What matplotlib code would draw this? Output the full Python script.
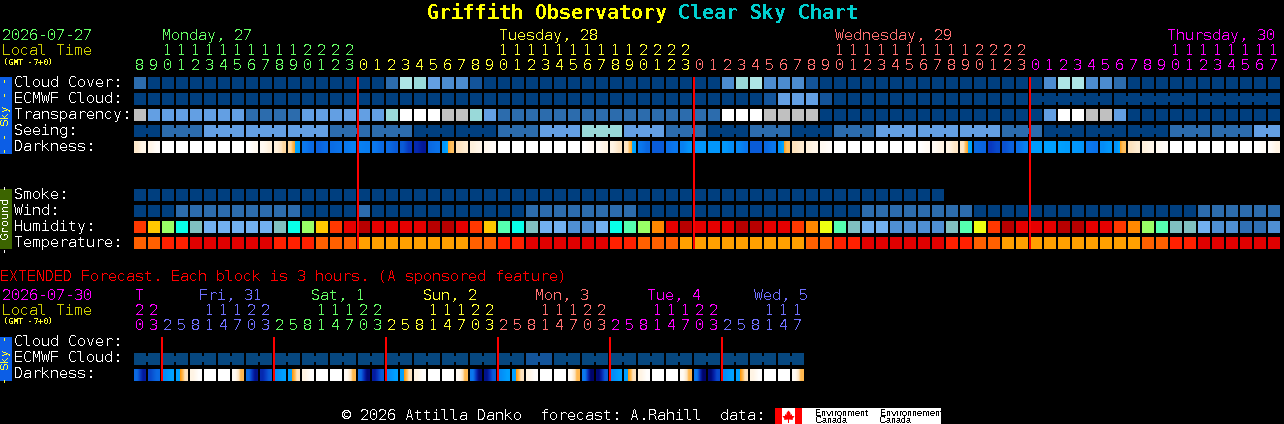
import matplotlib
matplotlib.use('Agg')
import matplotlib.pyplot as plt
from matplotlib.colors import LinearSegmentedColormap

plt.rcParams['font.family'] = ['DejaVu Sans Mono']
plt.rcParams['text.antialiased'] = False
plt.rcParams['text.hinting'] = 'native'
plt.rcParams['text.hinting_factor'] = 1

# hours along the top, one per column
hours = list(range(8, 24)) + list(range(24)) * 2 + list(range(18))
ext_hours = [20, 23] + [2, 5, 8, 11, 14, 17, 20, 23] * 5 + [2, 5, 8, 11, 14, 17]

# sky levels, index into sky_colors
cloud_cover = [2] + [0]*17 + [2, 6, 5, 4, 3, 3, 1] + [0]*17 + [3, 5, 6, 3, 3, 3, 1] + [0]*16 + [3, 6, 6, 3, 3, 2] + [0]*11
ecmwf_cloud = [0]*45 + [1, 4, 4, 4, 1] + [0]*32
transparency = [8] + [4]*7 + [2]*4 + [4]*6 + [5, 7, 7, 7, 8, 8, 5, 4] + [2]*16 + [7]*3 + [8]*4 + [0]*16 + [4, 7, 7, 8, 8, 4] + [0]*11
seeing = ([0]*2 + [2]*3 + [4]*9 + [2]*6 + [0]*6 + [2]*3 + [4]*3 + [5]*3 + [4]*3 + [2]*3 + [0]*3
          + [2]*3 + [0]*3 + [2]*3 + [4]*9 + [2]*3 + [0]*9 + [2]*6 + [4]*2)
smoke = [0]*58
wind = [0]*3 + [2]*9 + [0]*4 + [2] + [0]*11 + [2]*8 + [0]*16 + [2]*8 + [0]*16 + [2]*6

humidity = [10, 8, 6, 4, 3, 2, 2, 2, 2, 2, 3, 4, 6, 8, 10, 11, 12, 11, 11, 11, 11,
            12, 12, 11, 10, 8, 5, 4, 3, 2, 2, 1, 1, 2, 4, 5, 6, 9, 11, 12,
            11, 11, 11, 12, 12, 11, 11, 10, 9, 7, 5, 3,
            2, 2, 1, 1, 1, 1, 3, 5, 7, 10, 12, 11,
            11, 11, 12, 12, 11, 11, 10, 9, 6, 5, 3, 3, 2, 1, 1, 0, 0, 1]
temperature = [2, 2, 1, 1] + [0]*6 + [1]*3 + [2]*3 + [3]*8 + [2, 2, 1, 1] + [0]*6 + [1, 1, 2, 2, 2] + [3]*9 \
              + [2, 2, 1, 1] + [0]*6 + [1, 1, 2, 2] + [3]*10 + [2, 2, 1, 1] + [0]*6

# darkness at left and right edge of each block
dark_left = [1.6, .8, 0, 0, 0, 0, 0, 0, 0, .5, 1.2, 2.2, 5, 5.8, 5.4, 5, 4.8, 5, 5.5, 6, 7.5,
             5.5, 4.2, 2, 1.2, .6, 0, 0, 0, 0, 0, 0, 0, .4, 1, 1.8, 5, 6, 5.3, 4.8,
             4.2, 4.2, 4.2, 4.6, 6, 5.5, 4.3, 2, 1.2, .5, 0, 0,
             0, 0, 0, 0, 0, .4, 1, 1.8, 5.5, 7, 6.3, 5.3, 4.1, 4, 4, 4.2, 5, 4.5, 4.3,
             2, 1.2, .5, 0, 0, 0, 0, 0, 0, 0, .3]
dark_right = [.8, .2, 0, 0, 0, 0, 0, 0, .5, 1.2, 2.2, 4, 5.5, 5.4, 5.2, 4.8, 4.9, 5.5, 6, 7, 8.2,
              5.2, 2.6, 1.5, .8, .3, 0, 0, 0, 0, 0, 0, .4, 1, 1.8, 3.7, 5.6, 6, 5, 4.3,
              4.2, 4.2, 4.5, 5, 6, 5, 2.6, 1.5, .8, .2, 0, 0,
              0, 0, 0, 0, .4, 1, 1.8, 3.7, 5.7, 6.5, 5.8, 4.8, 4.1, 4, 4.1, 4.3, 5.2, 4.2, 2.6,
              1.5, .8, .2, 0, 0, 0, 0, 0, 0, .3, 1]

ext_ecmwf = [9]*28 + [1]*2 + [9]*18
ext_dark_left = [5.5, 6.5, 4.5, 4, 1, 0, 0, .4,
                 5.5, 7.5, 4.5, 4, 1, 0, 0, .4,
                 5.5, 8, 4.5, 4, 1, 0, 0, .4,
                 5, 8.5, 4.5, 4, 1, 0, 0, .4,
                 5, 9, 4.5, 4, 1, 0, 0, .4,
                 5, 9, 4.5, 4, 1, 0, 0, .4]
ext_dark_right = [8, 5.5, 4, 2, .1, 0, 0, 2.8,
                  8.5, 6, 4, 2, .1, 0, 0, 2.8,
                  9, 6, 4, 2, .1, 0, 0, 2.8,
                  9, 6, 4, 2, .1, 0, 0, 2.8,
                  9.5, 6, 4, 2, .1, 0, 0, 2.8,
                  9.5, 6.5, 4, 2, .1, 0, 0, 2.8]

sky_colors = ['#003f7f', '#13549a', '#2c6cad', '#4c8cd0', '#639fe3', '#99d9d9', '#aee6e6',
              '#ffffff', '#c0c0c0', '#06477f']
hum_colors = ['#2f6fb3', '#4f8fd3', '#72b0f0', '#80c0c0', '#08ffe8', '#55ffb0', '#99ff66',
              '#eeff11', '#ffc800', '#ff8800', '#ff3800', '#e60000', '#b80000']
temp_colors = ['#e00000', '#ff2000', '#ff6000', '#ffa000']
dark_cmap = LinearSegmentedColormap.from_list('dark', [
    (0, '#ffffff'), (.1, '#fff4e4'), (.2, '#fde2bd'), (.26, '#ffc060'), (.349, '#ff9a10'),
    (.35, '#00a8ff'), (.4, '#00a0ff'), (.5, '#0a78ee'), (.6, '#0a5cd8'), (.7, '#0838c0'),
    (.8, '#041ca0'), (.9, '#000a78'), (1, '#000060')], N=1024)

GREEN, YELLOW, SALMON, MAGENTA, VIOLET = '#66ff66', '#ffff33', '#ff7070', '#ff00ff', '#7070ff'
OLIVE = '#cccc00'
X0, STEP, SIZE = 134, 14, 12
FS = 10.76

fig = plt.figure(figsize=(12.84, 4.24), dpi=100, facecolor='black')
ax = fig.add_axes([0, 0, 1, 1], facecolor='black')
ax.axis('off')


def blocks(values, colors, top, joined=None):
    xs = [X0 + STEP * i for i in range(len(values))]
    ax.bar(xs, SIZE, width=SIZE, bottom=top, align='edge', color=[colors[v] for v in values],
           linewidth=0, antialiased=False)
    if joined:
        for i in range(len(values) - 1):
            if joined(i):
                ax.bar(xs[i] + SIZE, 6, width=STEP - SIZE, bottom=top + 3, align='edge',
                       color=colors[values[i]], linewidth=0, antialiased=False)


def dark_blocks(left, right, top):
    for i, (a, b) in enumerate(zip(left, right)):
        x = X0 + STEP * i
        ax.imshow([[a, b]], extent=(x, x + SIZE, top + SIZE, top), cmap=dark_cmap, vmin=0, vmax=10,
                  interpolation='bilinear', aspect='auto')


def label(x, y, s, color='white', **kw):
    kw.setdefault('fontsize', FS)
    ax.text(x, y, s, color=color, va='baseline', **kw)


def hour_digits(hrs, colors, tens_y, unit_y):
    for i, h in enumerate(hrs):
        x = X0 + STEP * i + 1
        if h >= 10:
            label(x, tens_y, str(h)[0], colors[i])
        label(x, unit_y, str(h)[-1], colors[i])


# title
label(427, 19, 'Griffith Observatory', '#ffff00', fontsize=14.35, fontweight='bold')
label(678, 19, 'Clear Sky Chart', '#00d0d0', fontsize=14.35, fontweight='bold')

# main header
label(2, 40, '2026-07-27', GREEN)
label(2, 55, 'Local Time', OLIVE)
label(3, 65, '(GMT -7+0)', YELLOW, fontsize=5.6)
label(162, 40, 'Monday, 27', GREEN)
label(499, 40, 'Tuesday, 28', YELLOW)
label(835, 40, 'Wednesday, 29', SALMON)
label(1167, 40, 'Thursday, 30', MAGENTA)
hour_colors = [GREEN]*16 + [YELLOW]*24 + [SALMON]*24 + [MAGENTA]*18
hour_digits(hours, hour_colors, 55, 70)

# main rows
rows = [('Cloud Cover:', 77), ('ECMWF Cloud:', 93), ('Transparency:', 109), ('Seeing:', 125),
        ('Darkness:', 141), ('Smoke:', 189), ('Wind:', 205), ('Humidity:', 221), ('Temperature:', 237)]
for name, top in rows:
    label(14, top + 10, name)

blocks(cloud_cover, sky_colors, 77)
blocks(ecmwf_cloud, sky_colors, 93, joined=lambda i: i >= 64 and (i - 64) % 6 != 5)
blocks(transparency, sky_colors, 109)
blocks(seeing, sky_colors, 125, joined=lambda i: i % 3 != 1)
dark_blocks(dark_left, dark_right, 141)
blocks(smoke, sky_colors, 189)
blocks(wind, sky_colors, 205)
blocks(humidity, hum_colors, 221)
blocks(temperature, temp_colors, 237)

midnights = [X0 + STEP * i for i, h in enumerate(hours) if h == 0 and i > 0]
ax.vlines(midnights, 77, 249, color='#ff0000', linewidth=1.44, zorder=5)

# side bars
ax.bar(0, 77, width=12, bottom=77, align='edge', color='#0c5ee6', linewidth=0)
ax.bar(0, 60, width=12, bottom=189, align='edge', color='#3c6400', linewidth=0)
ax.bar(0, 44, width=12, bottom=337, align='edge', color='#0c5ee6', linewidth=0)
ax.text(6, 115, '- - Sky - -', color=YELLOW, fontsize=7.6, rotation=90, ha='center', va='center')
ax.text(6, 219, '- Ground -', color='white', fontsize=7.6, rotation=90, ha='center', va='center')
ax.text(6, 359, '- Sky -', color=YELLOW, fontsize=7.6, rotation=90, ha='center', va='center')

# extended forecast
label(0, 281, 'EXTENDED Forecast. Each block is 3 hours. (A sponsored feature)', '#ff0000')
label(2, 300, '2026-07-30', MAGENTA)
label(2, 315, 'Local Time', OLIVE)
label(3, 324, '(GMT -7+0)', YELLOW, fontsize=5.6)
label(135, 300, 'T', MAGENTA)
label(199, 300, 'Fri, 31', VIOLET)
label(311, 300, 'Sat, 1', GREEN)
label(423, 300, 'Sun, 2', YELLOW)
label(535, 300, 'Mon, 3', SALMON)
label(647, 300, 'Tue, 4', MAGENTA)
label(754, 300, 'Wed, 5', VIOLET)
ext_colors = [MAGENTA]*2 + [VIOLET]*8 + [GREEN]*8 + [YELLOW]*8 + [SALMON]*8 + [MAGENTA]*8 + [VIOLET]*6
hour_digits(ext_hours, ext_colors, 315, 330)

label(14, 346, 'Cloud Cover:')
label(14, 362, 'ECMWF Cloud:')
label(14, 378, 'Darkness:')
blocks(ext_ecmwf, sky_colors, 353, joined=lambda i: i % 2 == 0)
dark_blocks(ext_dark_left, ext_dark_right, 369)
ext_midnights = [X0 + STEP * (i + 1) for i, h in enumerate(ext_hours) if h == 23 and i < 47]
ax.vlines(ext_midnights, 337, 381, color='#ff0000', linewidth=1.44, zorder=5)

# footer
label(342, 420, '\u00a9 2026 Attilla Danko  forecast: A.Rahill  data:')
ax.bar(775, 16, width=27, bottom=408, align='edge', color='#ff0000', linewidth=0)
ax.bar(782, 16, width=13, bottom=408, align='edge', color='white', linewidth=0)
ax.bar(802, 16, width=139, bottom=408, align='edge', color='white', linewidth=0)
leaf_x = [788.5, 790.5, 790.5, 792, 792, 794.5, 792.5, 793, 789, 789, 788, 788, 784, 784.5, 782.5, 785, 785, 786.5, 786.5]
leaf_y = [410.5, 413, 415, 414, 416, 416, 419, 420, 419.5, 423, 423, 419.5, 420, 419, 416, 416, 414, 415, 413]
ax.fill(leaf_x, leaf_y, color='#ff0000', linewidth=0)
for x, word in ((815, 'Environment'), (880, 'Environnement')):
    ax.text(x, 415.5, word, color='black', fontsize=6.8, family='Liberation Sans', clip_on=True,
            clip_box=matplotlib.transforms.Bbox([[802, 0], [941, 424]]))
    ax.text(x, 423, 'Canada', color='black', fontsize=6.8, family='Liberation Sans')

ax.set_xlim(0, 1284)
ax.set_ylim(424, 0)
fig.savefig('out.png', dpi=100, facecolor='black')
